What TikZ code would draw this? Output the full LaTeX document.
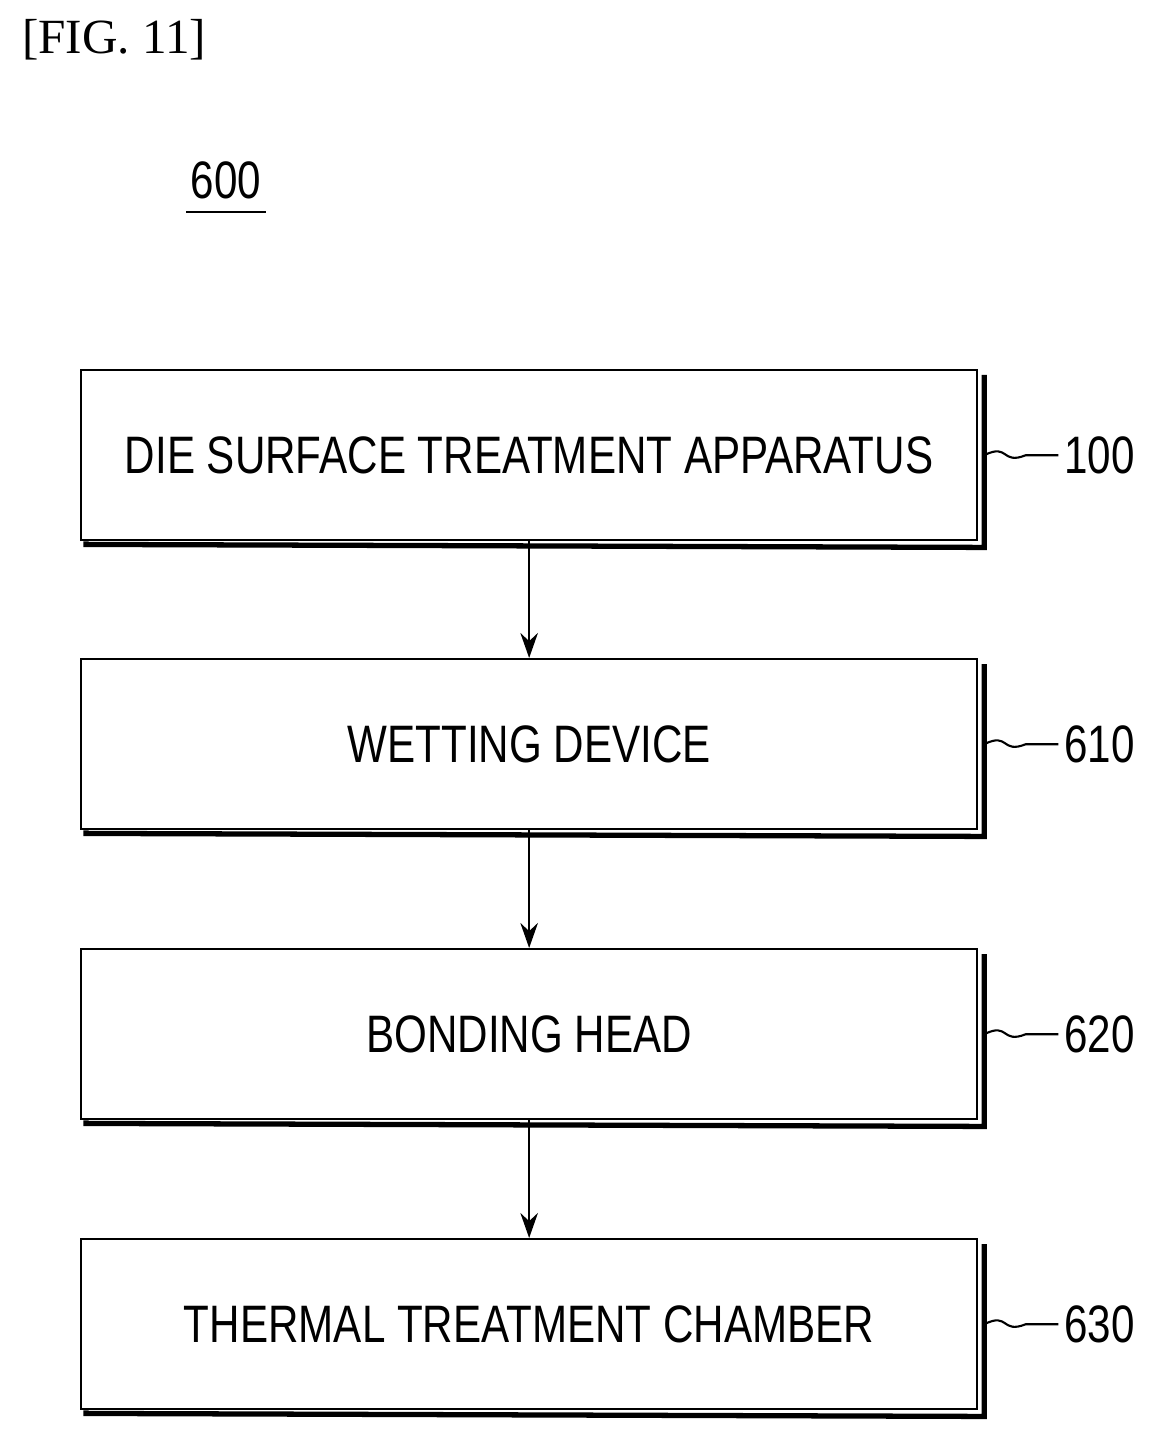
\documentclass[tikz,border=0pt]{standalone}
\usepackage{fontspec}
\setmainfont{Liberation Serif}
\newfontfamily\boxfont[FakeStretch=0.8]{Liberation Sans}
\usetikzlibrary{positioning,arrows.meta}

\tikzset{
  block/.style={draw, line width=1.4pt, minimum width=17.92cm, minimum height=3.4cm,
    font=\boxfont\fontsize{30}{34}\selectfont, fill=white},
  shade/.style={line width=3pt},
  flow/.style={-{Stealth[length=0.5cm,width=0.35cm]}, line width=1.4pt},
  tag/.style={font=\boxfont\fontsize{30}{34}\selectfont, anchor=west},
  wave/.style={line width=1.2pt}
}

\begin{document}
\begin{tikzpicture}[x=0.02cm,y=-0.02cm]
    \useasboundingbox (0,0) rectangle (1161,1435);
    \node[font=\fontsize{28}{32}\selectfont, anchor=west] (fig) at (16,40) {[FIG. 11]};
    \node[tag, anchor=center] (sys) at (226,180) {600};
    \draw[line width=1.4pt] (186,212) -- (266,212);

    \node[block, anchor=north west] (surface) at (80,369) {DIE SURFACE TREATMENT APPARATUS};
    \node[block, anchor=north west] (wetting) at (80,658) {WETTING DEVICE};
    \node[block, anchor=north west] (bonding) at (80,948) {BONDING HEAD};
    \node[block, anchor=north west] (thermal) at (80,1238) {THERMAL TREATMENT CHAMBER};

    % shadows and reference labels
    \foreach \b/\n in {surface/100, wetting/610, bonding/620, thermal/630} {
        \draw[shade] ([xshift=0.12cm]\b.south west) -- ([xshift=0.12cm,yshift=-0.06cm]\b.south west)
            -- ([xshift=0.12cm,yshift=-0.12cm]\b.south east) |- ([xshift=0.12cm,yshift=-0.12cm]\b.north east);
        \node[tag] (\b-ref) at ([xshift=1.6cm]\b.east) {\n};
        \draw[wave] ([xshift=0.12cm]\b.east) .. controls +(0.5cm,0.25cm) and +(-0.5cm,-0.2cm) .. ([xshift=0.95cm]\b.east)
            -- (\b-ref.west);
    }

    \draw[flow] (surface) -- (wetting);
    \draw[flow] (wetting) -- (bonding);
    \draw[flow] (bonding) -- (thermal);
\end{tikzpicture}
\end{document}
